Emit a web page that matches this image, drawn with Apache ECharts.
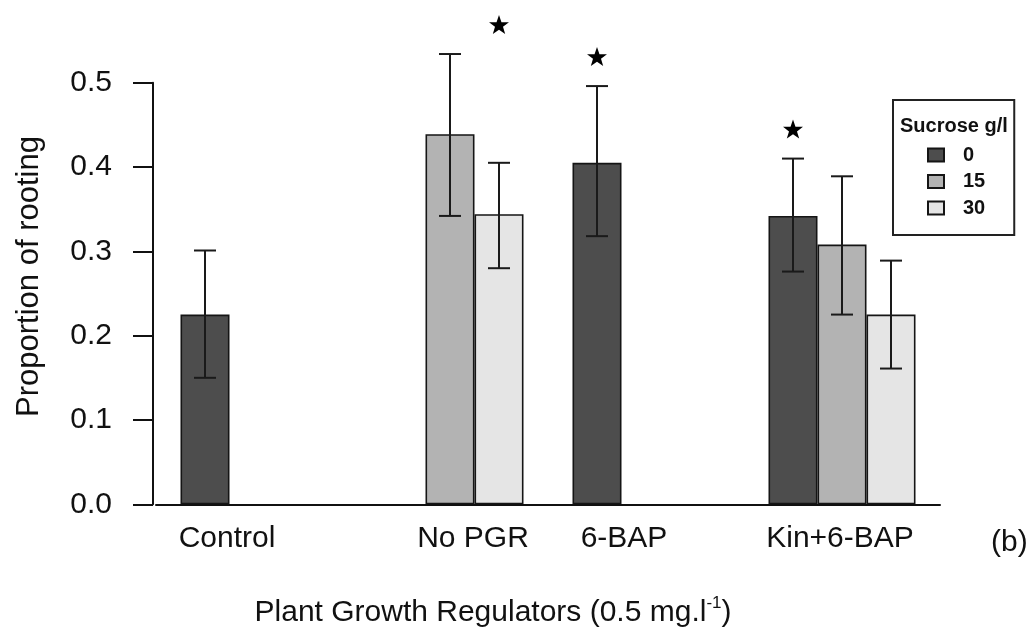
<!DOCTYPE html>
<html>
<head>
<meta charset="utf-8">
<script src="https://cdn.jsdelivr.net/npm/echarts@6/dist/echarts.min.js"></script>
<style>
html,body{margin:0;padding:0;background:#fff;}
#chart{width:1030px;height:637px;}
</style>
</head>
<body>
<div id="chart"></div>
<script>
// ---- data ----
const categories = ['Control', 'No PGR', '6-BAP', 'Kin+6-BAP'];
const sucroseLevels = ['0', '15', '30'];
const mean0  = [0.225, null, 0.405, 0.342];
const mean15 = [null, 0.439, null, 0.308];
const mean30 = [null, 0.344, null, 0.225];
const lower0  = [0.150, null, 0.318, 0.276];
const upper0  = [0.301, null, 0.496, 0.410];
const lower15 = [null, 0.342, null, 0.225];
const upper15 = [null, 0.534, null, 0.389];
const lower30 = [null, 0.280, null, 0.161];
const upper30 = [null, 0.405, null, 0.289];
const yTickLabels = ['0.0', '0.1', '0.2', '0.3', '0.4', '0.5'];
// [category index, sucrose level index] of bars marked as significant
const significant = [[1, 2], [2, 0], [3, 0]];

// ---- derived ----
const means = [mean0, mean15, mean30];
const lowers = [lower0, lower15, lower30];
const uppers = [upper0, upper15, upper30];
const errData = [];
for (let s = 0; s < 3; s++) {
  for (let c = 0; c < categories.length; c++) {
    if (means[s][c] != null) errData.push([c, lowers[s][c], uppers[s][c], s]);
  }
}
const starData = significant.map(([c, s]) => {
  let top = -Infinity;
  for (let k = 0; k < 3; k++) if (uppers[k][c] != null) top = Math.max(top, uppers[k][c]);
  return [c, top, s];
});

const FONT = "'Liberation Sans', Arial, Helvetica, sans-serif";
const INK = '#111';
const colors = ['#4d4d4d', '#b3b3b3', '#e5e5e5'];
const labelShift = [[0, 54, 0, 0], [0, 0, 0, 46], [0, 44, 0, 0], [0, 4, 0, 0]];

const chart = echarts.init(document.getElementById('chart'), null, {renderer: 'canvas'});

const rich = {};
labelShift.forEach((p, i) => {
  rich['l' + i] = {fontSize: 30, fontFamily: FONT, color: INK, padding: p};
});

function slotX(api, c, s) {
  const bw = api.size([1, 0])[0] * 0.25;
  return api.coord([c, 0])[0] + (s - 1) * bw;
}

const barSeries = sucroseLevels.map((name, s) => ({
  name: name,
  type: 'bar',
  data: means[s],
  barWidth: '25%',
  barGap: '0%',
  itemStyle: {color: colors[s], borderColor: '#151515', borderWidth: 1.6},
  emphasis: {disabled: true},
  z: 2
}));

const option = {
  animation: false,
  backgroundColor: '#ffffff',
  textStyle: {fontFamily: FONT},
  grid: {left: 156, top: 82.7, width: 784, height: 421.6, containLabel: false},
  title: [
    {text: 'Sucrose g/l', left: 895, top: 111,
     textStyle: {fontSize: 20, fontWeight: 'bold', fontFamily: FONT, color: INK}},
    {text: '(b)', left: 986, top: 523,
     textStyle: {fontSize: 30, fontWeight: 'normal', fontFamily: FONT, color: INK}}
  ],
  legend: {
    data: sucroseLevels,
    orient: 'vertical',
    left: 893, top: 100,
    padding: [45, 29, 17, 34],
    borderColor: '#222', borderWidth: 2,
    itemWidth: 16, itemHeight: 13, itemGap: 6.5,
    icon: 'rect',
    selectedMode: false,
    textStyle: {fontSize: 20, fontWeight: 'bold', fontFamily: FONT, color: INK,
                lineHeight: 20, padding: [0, 0, 0, 14]}
  },
  xAxis: {
    type: 'category',
    data: categories,
    axisLine: {show: true, lineStyle: {color: INK, width: 2}},
    axisTick: {show: false},
    axisLabel: {
      interval: 0, margin: 19,
      formatter: (v, i) => '{l' + i + '|' + v + '}',
      rich: rich
    },
    name: '{a|Plant Growth Regulators (0.5 mg.l}{s|-1}{a|)}',
    nameLocation: 'middle',
    nameGap: 91,
    nameTextStyle: {
      padding: [0, 110, 0, 0],
      rich: {
        a: {fontSize: 30, fontFamily: FONT, color: INK, lineHeight: 34},
        s: {fontSize: 17, fontFamily: FONT, color: INK, lineHeight: 17, verticalAlign: 'top'}
      }
    }
  },
  yAxis: {
    type: 'value',
    min: 0, max: 0.5, interval: 0.1,
    offset: 3,
    axisLine: {show: true, lineStyle: {color: INK, width: 2}},
    axisTick: {show: true, length: 20, lineStyle: {color: INK, width: 2}},
    splitLine: {show: false},
    axisLabel: {
      margin: 41, fontSize: 30, fontFamily: FONT, color: INK,
      formatter: (v) => yTickLabels[Math.round(v * 10)]
    },
    name: 'Proportion of rooting',
    nameLocation: 'middle',
    nameGap: 108,
    nameTextStyle: {fontSize: 31, fontFamily: FONT, color: INK, padding: [0, 0, 0, 34]}
  },
  series: barSeries.concat([
    {
      type: 'custom',
      name: 'err',
      data: errData,
      encode: {x: 0, y: [1, 2]},
      z: 5,
      silent: true,
      renderItem: function (params, api) {
        const c = api.value(0), s = api.value(3);
        const x = slotX(api, c, s);
        const yLo = api.coord([c, api.value(1)])[1];
        const yHi = api.coord([c, api.value(2)])[1];
        const half = 11;
        const st = {stroke: '#1a1a1a', lineWidth: 2};
        return {type: 'group', children: [
          {type: 'line', shape: {x1: x, y1: yLo, x2: x, y2: yHi}, style: st},
          {type: 'line', shape: {x1: x - half, y1: yHi, x2: x + half, y2: yHi}, style: st},
          {type: 'line', shape: {x1: x - half, y1: yLo, x2: x + half, y2: yLo}, style: st}
        ]};
      }
    },
    {
      type: 'custom',
      name: 'sig',
      data: starData,
      encode: {x: 0, y: 1},
      z: 6,
      silent: true,
      renderItem: function (params, api) {
        const c = api.value(0), s = api.value(2);
        const cx = slotX(api, c, s);
        const cy = api.coord([c, api.value(1)])[1] - 30;
        const R = 10.5, r = 4.2;
        const pts = [];
        for (let k = 0; k < 10; k++) {
          const ang = -Math.PI / 2 + k * Math.PI / 5;
          const rad = k % 2 === 0 ? R : r;
          pts.push([cx + rad * Math.cos(ang), cy + 1.5 + rad * Math.sin(ang)]);
        }
        return {type: 'polygon', shape: {points: pts}, style: {fill: '#000'}};
      }
    }
  ])
};

chart.setOption(option);
</script>
</body>
</html>
